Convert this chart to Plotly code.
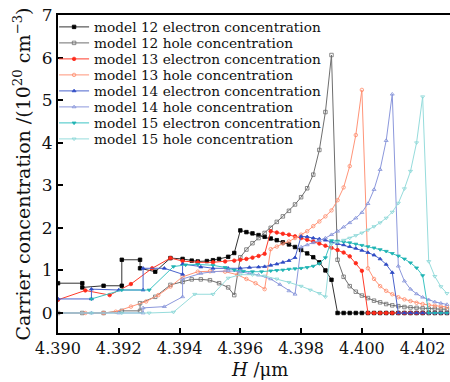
import plotly.graph_objects as go

# ---- model 12 ----
h_m12_e = [4.3900, 4.3908, 4.3908, 4.3915, 4.3921, 4.3921, 4.3927, 4.3927, 4.3932, 4.3937,
           4.3941, 4.3944, 4.3946, 4.3949, 4.3951, 4.3953, 4.3956, 4.3958,
           4.3960, 4.3962, 4.3964, 4.3966, 4.3968, 4.3970, 4.3972, 4.3974, 4.3976, 4.3978,
           4.3980, 4.3982, 4.3984, 4.3986, 4.3988, 4.3990,
           4.3992, 4.3994, 4.3996, 4.3998, 4.4000, 4.4002, 4.4004, 4.4006, 4.4008, 4.4010,
           4.4012, 4.4014, 4.4016, 4.4018, 4.4020, 4.4022, 4.4024, 4.4026, 4.4028]
n_m12_e = [0.70, 0.70, 0.60, 0.64, 0.64, 1.25, 1.25, 1.05, 0.97, 1.29,
           1.27, 1.23, 1.21, 1.22, 1.24, 1.27, 1.32, 1.41,
           1.94, 1.90, 1.87, 1.83, 1.79, 1.75, 1.71, 1.66, 1.61, 1.55,
           1.48, 1.40, 1.31, 1.19, 1.00, 0.78,
           0, 0, 0, 0, 0, 0, 0, 0, 0, 0,
           0, 0, 0, 0, 0, 0, 0, 0, 0]

h_m12_h = [4.3900, 4.3908, 4.3915, 4.3921, 4.3927, 4.3927, 4.3932, 4.3937, 4.3941, 4.3944,
           4.3947, 4.3950, 4.3953, 4.3956, 4.3958,
           4.3960, 4.3962, 4.3964, 4.3966, 4.3968, 4.3970, 4.3972, 4.3974, 4.3976, 4.3978,
           4.3980, 4.3982, 4.3984, 4.3986, 4.3988, 4.3990,
           4.3992, 4.3994, 4.3996, 4.3998, 4.4000, 4.4002, 4.4004, 4.4006, 4.4008, 4.4010,
           4.4012, 4.4014, 4.4016, 4.4018, 4.4020, 4.4022, 4.4024, 4.4026, 4.4028]
n_m12_h = [0, 0, 0, 0.05, 0.05, 0.23, 0.38, 0.66, 0.73, 0.79,
           0.79, 0.77, 0.70, 0.60, 0.42,
           1.31, 1.49, 1.64, 1.76, 1.88, 2.00, 2.14, 2.27, 2.40, 2.55,
           2.72, 2.93, 3.25, 3.83, 4.72, 6.06,
           1.25, 0.85, 0.63, 0.50, 0.41, 0.35, 0.29, 0.25, 0.21, 0.18,
           0.16, 0.14, 0.13, 0.12, 0.11, 0.10, 0.10, 0.09, 0.09]

# ---- model 13 ----
h_m13_e = [4.3900, 4.3909, 4.3917, 4.3924, 4.3931, 4.3937, 4.3941, 4.3946, 4.3951, 4.3955,
           4.3958, 4.3960, 4.3962, 4.3964, 4.3966, 4.3968,
           4.3970, 4.3972, 4.3974, 4.3976, 4.3978, 4.3980, 4.3982, 4.3984, 4.3986, 4.3988,
           4.3990, 4.3992, 4.3994, 4.3996, 4.3998, 4.4000,
           4.4002, 4.4004, 4.4006, 4.4008, 4.4010, 4.4012, 4.4014, 4.4016, 4.4018, 4.4020,
           4.4022, 4.4024, 4.4026, 4.4028]
n_m13_e = [0.31, 0.53, 0.42, 0.68, 1.05, 1.29, 1.22, 1.19, 1.19, 1.21,
           1.23, 1.25, 1.27, 1.30, 1.34, 1.39,
           1.92, 1.89, 1.86, 1.84, 1.80, 1.76, 1.72, 1.68, 1.63, 1.58,
           1.53, 1.48, 1.42, 1.33, 1.17, 0.99,
           0, 0, 0, 0, 0, 0, 0, 0, 0, 0,
           0, 0, 0, 0]

h_m13_h = [4.3900, 4.3909, 4.3915, 4.3919, 4.3924, 4.3929, 4.3933, 4.3937, 4.3941, 4.3946,
           4.3950, 4.3955, 4.3959, 4.3962, 4.3965, 4.3968,
           4.3970, 4.3972, 4.3974, 4.3976, 4.3978, 4.3980, 4.3982, 4.3984, 4.3986, 4.3988,
           4.3990, 4.3992, 4.3994, 4.3996, 4.3998, 4.4000,
           4.4002, 4.4004, 4.4006, 4.4008, 4.4010, 4.4012, 4.4014, 4.4016, 4.4018, 4.4020,
           4.4022, 4.4024, 4.4026, 4.4028]
n_m13_h = [0, 0, 0, 0.03, 0.15, 0.27, 0.42, 0.62, 0.85, 0.97,
           0.98, 0.97, 0.90, 0.80, 0.70, 0.56,
           1.50, 1.56, 1.63, 1.68, 1.76, 1.84, 1.92, 2.04, 2.15, 2.27,
           2.41, 2.65, 2.95, 3.45, 4.18, 5.24,
           1.05, 0.80, 0.63, 0.52, 0.44, 0.37, 0.32, 0.28, 0.24, 0.21,
           0.19, 0.17, 0.15, 0.14]

# ---- model 14 ----
h_m14_e = [4.3900, 4.3911, 4.3911, 4.3920, 4.3928, 4.3928, 4.3935, 4.3941, 4.3941, 4.3947,
           4.3951, 4.3956, 4.3960, 4.3963, 4.3966, 4.3968, 4.3970, 4.3972, 4.3974, 4.3976,
           4.3978,
           4.3980, 4.3982, 4.3984, 4.3986, 4.3988, 4.3990, 4.3992, 4.3994, 4.3996, 4.3998,
           4.4000, 4.4002, 4.4004, 4.4006, 4.4008, 4.4010,
           4.4012, 4.4014, 4.4016, 4.4018, 4.4020, 4.4022, 4.4024, 4.4026, 4.4028]
n_m14_e = [0.33, 0.33, 0.56, 0.54, 0.54, 1.05, 1.05, 0.91, 1.15, 1.08,
           1.05, 1.05, 1.05, 1.07, 1.08, 1.09, 1.12, 1.15, 1.19, 1.23,
           1.30,
           1.80, 1.79, 1.76, 1.74, 1.71, 1.67, 1.63, 1.60, 1.56, 1.52,
           1.47, 1.42, 1.36, 1.27, 1.14, 0.95,
           0, 0, 0, 0, 0, 0, 0, 0, 0]

h_m14_h = [4.3900, 4.3911, 4.3920, 4.3928, 4.3928, 4.3935, 4.3941, 4.3941, 4.3947, 4.3951,
           4.3956, 4.3960, 4.3963, 4.3966, 4.3970, 4.3973, 4.3976, 4.3978,
           4.3980, 4.3982, 4.3984, 4.3986, 4.3988, 4.3990, 4.3992, 4.3994, 4.3996, 4.3998,
           4.4000, 4.4002, 4.4004, 4.4006, 4.4008, 4.4010,
           4.4012, 4.4014, 4.4016, 4.4018, 4.4020, 4.4022, 4.4024, 4.4026, 4.4028]
n_m14_h = [0, 0, 0, 0, 0.12, 0.15, 0.38, 0.80, 0.93, 0.97,
           0.99, 0.97, 0.93, 0.89, 0.80, 0.67, 0.52, 0.44,
           1.55, 1.60, 1.65, 1.70, 1.76, 1.84, 1.92, 2.02, 2.12, 2.23,
           2.36, 2.57, 2.90, 3.37, 4.05, 5.14,
           1.10, 0.75, 0.56, 0.45, 0.37, 0.31, 0.26, 0.23, 0.20]

# ---- model 15 ----
h_m15_e = [4.3911, 4.3921, 4.3930, 4.3938, 4.3942, 4.3946, 4.3951, 4.3955, 4.3958, 4.3961,
           4.3964, 4.3967, 4.3970, 4.3972, 4.3974, 4.3976, 4.3978, 4.3980, 4.3982, 4.3984,
           4.3986, 4.3988,
           4.3990, 4.3992, 4.3994, 4.3996, 4.3998, 4.4000, 4.4002, 4.4004, 4.4006, 4.4008,
           4.4010, 4.4012, 4.4014, 4.4016, 4.4018, 4.4020,
           4.4022, 4.4024, 4.4026, 4.4028]
n_m15_e = [0.33, 0.54, 0.54, 1.09, 1.13, 1.14, 1.12, 1.07, 1.01, 0.98,
           0.97, 0.97, 0.99, 1.00, 1.01, 1.03, 1.04, 1.05, 1.07, 1.10,
           1.16, 1.30,
           1.70, 1.69, 1.67, 1.65, 1.62, 1.59, 1.56, 1.53, 1.49, 1.45,
           1.40, 1.34, 1.27, 1.18, 1.06, 0.88,
           0, 0, 0, 0]

h_m15_h = [4.3900, 4.3911, 4.3921, 4.3930, 4.3938, 4.3945, 4.3951, 4.3956, 4.3960, 4.3964,
           4.3968, 4.3972, 4.3976, 4.3980, 4.3983, 4.3986, 4.3988,
           4.3990, 4.3992, 4.3994, 4.3996, 4.3998, 4.4000, 4.4002, 4.4004, 4.4006, 4.4008,
           4.4010, 4.4012, 4.4014, 4.4016, 4.4018, 4.4020,
           4.4022, 4.4024, 4.4026, 4.4028]
n_m15_h = [0, 0, 0, 0, 0.02, 0.44, 0.44, 0.82, 0.90, 0.90,
           0.87, 0.80, 0.72, 0.63, 0.54, 0.46, 0.38,
           1.62, 1.66, 1.71, 1.76, 1.82, 1.88, 1.95, 2.03, 2.12, 2.23,
           2.37, 2.58, 2.92, 3.33, 4.00, 5.08,
           1.21, 0.86, 0.62, 0.46]

series_names = [
    "model 12 electron concentration", "model 12 hole concentration",
    "model 13 electron concentration", "model 13 hole concentration",
    "model 14 electron concentration", "model 14 hole concentration",
    "model 15 electron concentration", "model 15 hole concentration",
]
x_ticks = [4.390, 4.392, 4.394, 4.396, 4.398, 4.400, 4.402]
y_ticks = [0, 1, 2, 3, 4, 5, 6, 7]

FONT = "DejaVu Serif"

# (x, y, line colour, marker colour, symbol, marker size)
series = [
    (h_m12_e, n_m12_e, "#333333", "#000000", "square", 3.5),
    (h_m12_h, n_m12_h, "#6e6e6e", "#6e6e6e", "square-open", 3.5),
    (h_m13_e, n_m13_e, "#ff3b2a", "#ff2a1a", "circle", 3.5),
    (h_m13_h, n_m13_h, "#ff9478", "#ff8a6a", "circle-open", 3.5),
    (h_m14_e, n_m14_e, "#4a63cc", "#2f4bc4", "triangle-up", 3.5),
    (h_m14_h, n_m14_h, "#8c98dc", "#8290d8", "triangle-up-open", 3.5),
    (h_m15_e, n_m15_e, "#3cc4c4", "#1fb3b3", "triangle-down", 3.5),
    (h_m15_h, n_m15_h, "#96dcdc", "#86d6d6", "triangle-down-open", 3.5),
]

fig = go.Figure()
legend_ids = ["legend"] + [f"legend{i}" for i in range(2, 9)]
for (hx, ny, lcol, mcol, sym, msz), name, lid in zip(series, series_names, legend_ids):
    fig.add_trace(go.Scatter(
        x=hx, y=ny, name=name, mode="lines+markers",
        line=dict(color=lcol, width=1),
        marker=dict(symbol=sym, size=msz, color=mcol, line=dict(color=mcol, width=0.8)),
        legend=lid,
    ))

# one legend box per row so the rows sit tightly like a printed key
plot_top, plot_bottom = 15, 333
row_px = [27, 43, 59, 75, 91, 107, 123, 139]
legend_layout = {}
for lid, ypx in zip(legend_ids, row_px):
    legend_layout[lid] = dict(
        x=-0.01, xanchor="left",
        y=(plot_bottom - ypx) / (plot_bottom - plot_top), yanchor="middle",
        bgcolor="rgba(0,0,0,0)", borderwidth=0,
        font=dict(family=FONT, size=13.7, color="#111111"),
        itemwidth=30,
    )

fig.update_layout(
    width=450, height=382,
    margin=dict(l=58, r=0, t=15, b=49),
    paper_bgcolor="white", plot_bgcolor="white",
    font=dict(family=FONT, color="#111111"),
    showlegend=True,
    **legend_layout,
    xaxis=dict(
        range=[4.390, 4.4029], tickvals=x_ticks, tickformat=".3f",
        ticks="inside", ticklen=5, tickwidth=1.5, tickcolor="black",
        showline=True, linewidth=2, linecolor="black", mirror=True,
        showgrid=False, zeroline=False,
        tickfont=dict(family=FONT, size=16, color="#111111"),
    ),
    yaxis=dict(
        range=[-0.47, 7.0], tickvals=y_ticks,
        ticks="inside", ticklen=5, tickwidth=1.5, tickcolor="black",
        showline=True, linewidth=2, linecolor="black",
        showgrid=False, zeroline=False,
        tickfont=dict(family=FONT, size=17, color="#111111"),
        title=dict(text="Carrier concentration /(10<sup>20</sup> cm<sup>−3</sup>)",
                   font=dict(family=FONT, size=19, color="#111111"), standoff=6),
    ),
    annotations=[dict(
        text="<i>H</i> /μm", xref="paper", yref="paper", x=0.515, y=-0.075,
        xanchor="center", yanchor="top", showarrow=False,
        font=dict(family=FONT, size=18, color="#111111"),
    )],
)

fig.write_html("out.html")
